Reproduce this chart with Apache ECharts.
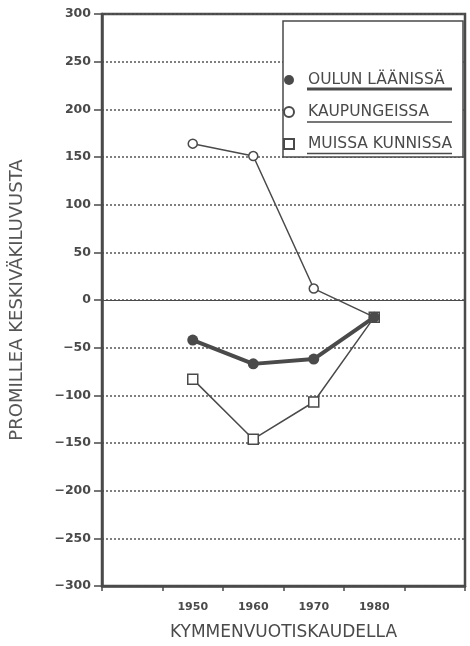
<!DOCTYPE html>
<html>
<head>
<meta charset="utf-8">
<script src="https://cdn.jsdelivr.net/npm/echarts@6/dist/echarts.min.js"></script>
<style>
	html, body { margin: 0; padding: 0; background: #fff; }
	#chart { width: 470px; height: 646px; }
</style>
</head>
<body>
<div id="chart"></div>
<script>
// 数据
var categories = ['', '1950', '1960', '1970', '1980', ''];
var oulunLaanissa = [null, -42, -67, -62, -18, null];
var kaupungeissa = [null, 164, 151, 12, -18, null];
var muissaKunnissa = [null, -83, -146, -107, -18, null];
var seriesNames = ['OULUN LÄÄNISSÄ', 'KAUPUNGEISSA', 'MUISSA KUNNISSA'];

var ink = '#4a4a4a';

var myChart = echarts.init(document.getElementById('chart'));

var option = {
	backgroundColor: '#fff',
	animation: false,
	grid: {
		left: 97,
		right: 5,
		top: 14,
		bottom: 53,
		show: true,
		borderColor: ink,
		borderWidth: 2.5,
		backgroundColor: 'transparent'
	},
	legend: {
		orient: 'vertical',
		left: 283,
		top: 72,
		padding: 0,
		itemGap: 16,
		itemWidth: 10,
		itemHeight: 10,
		textStyle: {
			fontFamily: 'DejaVu Sans',
			fontSize: 15.5,
			lineHeight: 16,
			color: ink,
			padding: [0, 0, 0, 9]
		},
		data: [
			{ name: seriesNames[0], icon: 'circle' },
			{ name: seriesNames[1], icon: 'circle' },
			{ name: seriesNames[2], icon: 'rect' }
		],
		z: 10
	},
	xAxis: {
		type: 'category',
		data: categories,
		boundaryGap: true,
		name: 'KYMMENVUOTISKAUDELLA',
		nameLocation: 'middle',
		nameGap: 38,
		nameTextStyle: { fontFamily: 'DejaVu Sans', fontSize: 17, color: ink },
		axisLine: { onZero: false, lineStyle: { color: ink, width: 2.5 } },
		axisTick: { show: true, inside: false, length: 5, lineStyle: { color: ink, width: 1.5 } },
		axisLabel: {
			margin: 16,
			fontFamily: 'DejaVu Sans',
			fontWeight: 'bold',
			fontSize: 11,
			color: ink
		},
		splitLine: { show: false }
	},
	yAxis: {
		type: 'value',
		min: -300,
		max: 300,
		interval: 50,
		name: 'PROMILLEA KESKIVÄKILUVUSTA',
		nameLocation: 'middle',
		nameGap: 76,
		nameTextStyle: { fontFamily: 'DejaVu Sans', fontSize: 18, color: '#555' },
		axisLine: { show: true, lineStyle: { color: ink, width: 2.5 } },
		axisTick: { show: true, inside: false, length: 8, lineStyle: { color: ink, width: 1.5 } },
		axisLabel: {
			margin: 11,
			fontFamily: 'DejaVu Sans',
			fontWeight: 'bold',
			fontSize: 12.5,
			color: ink,
			formatter: function (v) {
				return v < 0 ? '\u2212' + (-v) : '' + v;
			}
		},
		splitLine: {
			show: true,
			lineStyle: { color: '#555', width: 1.5, type: [2, 2] }
		}
	},
	graphic: [
		// 图例方框
		{
			type: 'rect',
			z: 5,
			shape: { x: 283, y: 21, width: 180, height: 136 },
			style: { fill: '#fff', stroke: ink, lineWidth: 1.5 }
		},
		// 图例下划线
		{
			type: 'line',
			z: 11,
			shape: { x1: 307, y1: 89, x2: 452, y2: 89 },
			style: { stroke: ink, lineWidth: 3 }
		},
		{
			type: 'line',
			z: 11,
			shape: { x1: 307, y1: 122, x2: 452, y2: 122 },
			style: { stroke: ink, lineWidth: 1.5 }
		},
		{
			type: 'line',
			z: 11,
			shape: { x1: 307, y1: 153.5, x2: 452, y2: 153.5 },
			style: { stroke: ink, lineWidth: 1.5 }
		}
	],
	series: [
		{
			name: seriesNames[0],
			type: 'line',
			data: oulunLaanissa,
			symbol: 'circle',
			symbolSize: 11,
			z: 4,
			lineStyle: { color: ink, width: 4 },
			itemStyle: { color: ink, borderColor: ink, borderWidth: 0 }
		},
		{
			name: seriesNames[1],
			type: 'line',
			data: kaupungeissa,
			symbol: 'circle',
			symbolSize: 9,
			z: 3,
			lineStyle: { color: ink, width: 1.5 },
			itemStyle: { color: '#fff', borderColor: ink, borderWidth: 1.5 },
			markLine: {
				silent: true,
				symbol: 'none',
				label: { show: false },
				lineStyle: { color: ink, width: 1.2, type: 'solid' },
				data: [{ yAxis: 0 }]
			}
		},
		{
			name: seriesNames[2],
			type: 'line',
			data: muissaKunnissa,
			symbol: 'rect',
			symbolSize: 10,
			z: 3,
			lineStyle: { color: ink, width: 1.5 },
			itemStyle: { color: '#fff', borderColor: ink, borderWidth: 1.5 }
		}
	]
};

myChart.setOption(option);
</script>
</body>
</html>
